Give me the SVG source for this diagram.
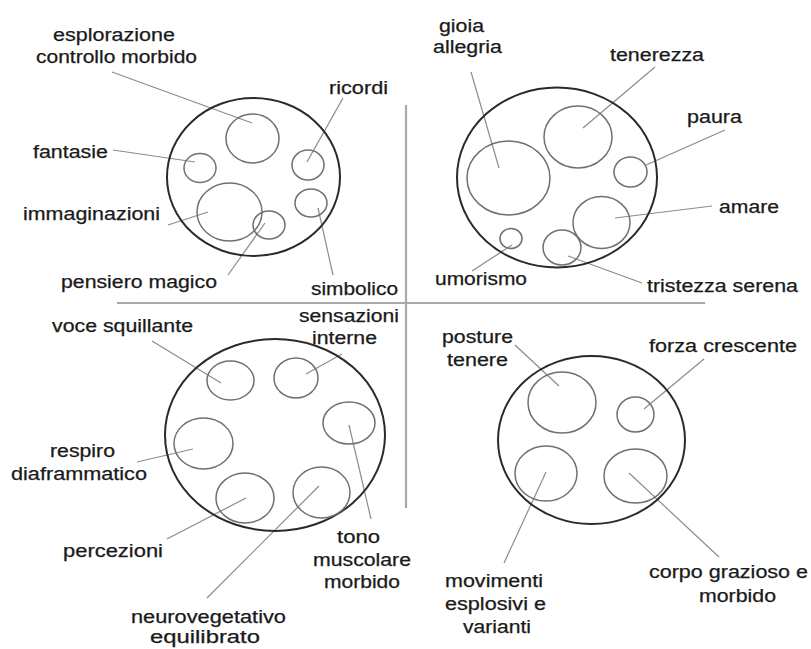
<svg xmlns="http://www.w3.org/2000/svg" width="811" height="649" viewBox="0 0 811 649">
<style>
.bg{fill:#fff}
.big{fill:none;stroke:#2a2a2a;stroke-width:2}
.sm{fill:none;stroke:#707070;stroke-width:1.5}
.ld{fill:none;stroke:#8c8c8c;stroke-width:1.2}
.div{fill:none;stroke:#a8a8a8;stroke-width:2.2}
text{font-family:"Liberation Sans",Arial,sans-serif;font-size:17.5px;fill:#1a1a1a;stroke:#1a1a1a;stroke-width:0.25}
</style>
<rect class="bg" x="0" y="0" width="811" height="649"/>
<g id="dividers">
<line class="div" x1="406" y1="105" x2="406" y2="508"/>
<line class="div" x1="117" y1="303" x2="705" y2="303"/>
</g>
<g id="connectors">
<line class="ld" x1="112" y1="72" x2="252" y2="123"/>
<line class="ld" x1="113" y1="150" x2="195" y2="162"/>
<line class="ld" x1="343" y1="98" x2="307" y2="162"/>
<line class="ld" x1="168" y1="225" x2="208" y2="212"/>
<line class="ld" x1="228" y1="275" x2="265" y2="223"/>
<line class="ld" x1="333" y1="275" x2="318" y2="208"/>
<line class="ld" x1="471" y1="72" x2="499" y2="168"/>
<line class="ld" x1="655" y1="67" x2="583" y2="128"/>
<line class="ld" x1="725" y1="130" x2="646" y2="165"/>
<line class="ld" x1="712" y1="206" x2="615" y2="218"/>
<line class="ld" x1="472" y1="271" x2="512" y2="245"/>
<line class="ld" x1="642" y1="283" x2="568" y2="256"/>
<line class="ld" x1="152" y1="341" x2="221" y2="383"/>
<line class="ld" x1="342" y1="354" x2="306" y2="374"/>
<line class="ld" x1="371" y1="519" x2="349" y2="425"/>
<line class="ld" x1="137" y1="462" x2="193" y2="449"/>
<line class="ld" x1="167" y1="539" x2="246" y2="498"/>
<line class="ld" x1="207" y1="598" x2="319" y2="486"/>
<line class="ld" x1="515" y1="345" x2="559" y2="386"/>
<line class="ld" x1="704" y1="359" x2="644" y2="409"/>
<line class="ld" x1="504" y1="563" x2="546" y2="472"/>
<line class="ld" x1="719" y1="557" x2="629" y2="473"/>
</g>
<g id="cluster-immaginario">
<ellipse class="big" cx="253.5" cy="177" rx="86.5" ry="79"/>
<g id="esplorazione"><ellipse class="sm" cx="252.5" cy="138.5" rx="26.5" ry="24.5"/><text x="53" y="41" textLength="122" lengthAdjust="spacingAndGlyphs">esplorazione</text><text x="36" y="63" textLength="161" lengthAdjust="spacingAndGlyphs">controllo morbido</text></g>
<g id="fantasie"><ellipse class="sm" cx="200" cy="168" rx="16" ry="14.5"/><text x="33" y="158" textLength="75" lengthAdjust="spacingAndGlyphs">fantasie</text></g>
<g id="ricordi"><ellipse class="sm" cx="308" cy="165" rx="16" ry="15"/><text x="329" y="94" textLength="59" lengthAdjust="spacingAndGlyphs">ricordi</text></g>
<g id="immaginazioni"><ellipse class="sm" cx="229.5" cy="212" rx="32.5" ry="29"/><text x="23" y="220" textLength="137" lengthAdjust="spacingAndGlyphs">immaginazioni</text></g>
<g id="pensiero-magico"><ellipse class="sm" cx="269" cy="225" rx="16" ry="14"/><text x="61" y="288" textLength="156" lengthAdjust="spacingAndGlyphs">pensiero magico</text></g>
<g id="simbolico"><ellipse class="sm" cx="311" cy="203" rx="16" ry="14"/><text x="311" y="295" textLength="87" lengthAdjust="spacingAndGlyphs">simbolico</text></g>
</g>
<g id="cluster-emozioni">
<ellipse class="big" cx="557" cy="177.5" rx="100" ry="90"/>
<g id="gioia"><ellipse class="sm" cx="508.5" cy="178" rx="41.5" ry="37"/><text x="439" y="32" textLength="45" lengthAdjust="spacingAndGlyphs">gioia</text><text x="433" y="53" textLength="69" lengthAdjust="spacingAndGlyphs">allegria</text></g>
<g id="tenerezza"><ellipse class="sm" cx="578" cy="137" rx="34" ry="31"/><text x="610" y="61" textLength="94" lengthAdjust="spacingAndGlyphs">tenerezza</text></g>
<g id="paura"><ellipse class="sm" cx="630.5" cy="172" rx="16.5" ry="15"/><text x="687" y="123" textLength="55" lengthAdjust="spacingAndGlyphs">paura</text></g>
<g id="amare"><ellipse class="sm" cx="601.5" cy="222.5" rx="28.5" ry="26"/><text x="719" y="213" textLength="60" lengthAdjust="spacingAndGlyphs">amare</text></g>
<g id="umorismo"><ellipse class="sm" cx="511" cy="238.5" rx="11" ry="10"/><text x="435" y="285" textLength="92" lengthAdjust="spacingAndGlyphs">umorismo</text></g>
<g id="tristezza-serena"><ellipse class="sm" cx="562" cy="247.5" rx="19" ry="17.5"/><text x="647" y="292" textLength="151" lengthAdjust="spacingAndGlyphs">tristezza serena</text></g>
</g>
<g id="cluster-corpo-interno">
<ellipse class="big" cx="275" cy="435" rx="110" ry="96"/>
<g id="voce-squillante"><ellipse class="sm" cx="230.5" cy="380.5" rx="23.5" ry="19.5"/><text x="52" y="332" textLength="141" lengthAdjust="spacingAndGlyphs">voce squillante</text></g>
<g id="sensazioni-interne"><ellipse class="sm" cx="296" cy="378" rx="22" ry="20"/><text x="299" y="322" textLength="100" lengthAdjust="spacingAndGlyphs">sensazioni</text><text x="312" y="344" textLength="65" lengthAdjust="spacingAndGlyphs">interne</text></g>
<g id="tono-muscolare"><ellipse class="sm" cx="349" cy="423" rx="26" ry="21"/><text x="337" y="543" textLength="43" lengthAdjust="spacingAndGlyphs">tono</text><text x="313" y="566" textLength="98" lengthAdjust="spacingAndGlyphs">muscolare</text><text x="324" y="588" textLength="76" lengthAdjust="spacingAndGlyphs">morbido</text></g>
<g id="respiro"><ellipse class="sm" cx="203.5" cy="443.5" rx="29.5" ry="25.5"/><text x="50" y="457" textLength="65" lengthAdjust="spacingAndGlyphs">respiro</text><text x="11" y="480" textLength="136" lengthAdjust="spacingAndGlyphs">diaframmatico</text></g>
<g id="percezioni"><ellipse class="sm" cx="245" cy="498" rx="29" ry="25"/><text x="63" y="557" textLength="100" lengthAdjust="spacingAndGlyphs">percezioni</text></g>
<g id="neurovegetativo"><ellipse class="sm" cx="321.5" cy="492.5" rx="28.5" ry="25.5"/><text x="131" y="623" textLength="155" lengthAdjust="spacingAndGlyphs">neurovegetativo</text><text x="150" y="643" textLength="110" lengthAdjust="spacingAndGlyphs">equilibrato</text></g>
</g>
<g id="cluster-movimento">
<ellipse class="big" cx="591.5" cy="440" rx="93.5" ry="84"/>
<g id="posture-tenere"><ellipse class="sm" cx="562" cy="402.5" rx="34" ry="30.5"/><text x="442" y="343" textLength="71" lengthAdjust="spacingAndGlyphs">posture</text><text x="447" y="366" textLength="61" lengthAdjust="spacingAndGlyphs">tenere</text></g>
<g id="forza-crescente"><ellipse class="sm" cx="635.5" cy="414.5" rx="18.5" ry="17.5"/><text x="649" y="352" textLength="148" lengthAdjust="spacingAndGlyphs">forza crescente</text></g>
<g id="movimenti"><ellipse class="sm" cx="546" cy="473.5" rx="31" ry="27.5"/><text x="445" y="587" textLength="98" lengthAdjust="spacingAndGlyphs">movimenti</text><text x="445" y="610" textLength="101" lengthAdjust="spacingAndGlyphs">esplosivi e</text><text x="463" y="633" textLength="68" lengthAdjust="spacingAndGlyphs">varianti</text></g>
<g id="corpo-grazioso"><ellipse class="sm" cx="635.5" cy="476" rx="31.5" ry="27"/><text x="649" y="578" textLength="159" lengthAdjust="spacingAndGlyphs">corpo grazioso e</text><text x="699" y="602" textLength="77" lengthAdjust="spacingAndGlyphs">morbido</text></g>
</g>
</svg>
